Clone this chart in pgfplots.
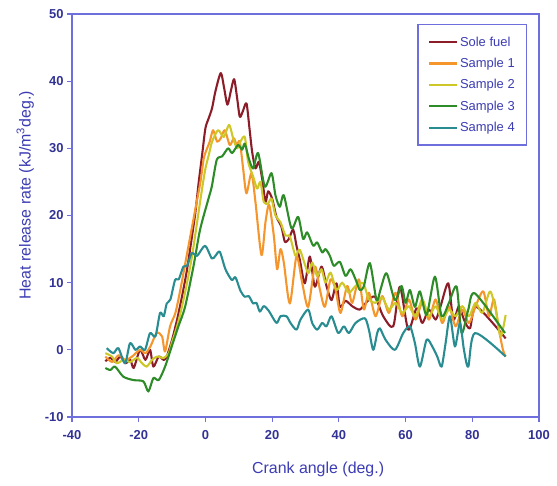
\documentclass[border=0pt]{standalone}
\usepackage{pgfplots}
\pgfplotsset{compat=1.18}
\usepackage{fontspec}
\setmainfont{Liberation Sans}
\definecolor{axblue}{RGB}{110,110,220}
\definecolor{tickblue}{RGB}{50,50,150}
\definecolor{labblue}{RGB}{60,60,180}
\definecolor{solec}{RGB}{140,28,40}
\definecolor{s1c}{RGB}{245,150,45}
\definecolor{s2c}{RGB}{205,200,40}
\definecolor{s3c}{RGB}{45,140,40}
\definecolor{s4c}{RGB}{40,140,145}
\tikzset{curve/.style={line width=2.1pt, smooth, tension=0.45, line join=round}}
\begin{document}
\begin{tikzpicture}
\useasboundingbox (-72bp,-69bp) rectangle (485bp,417bp);
\begin{axis}[
  scale only axis,
  width=467bp, height=403bp,
  xmin=-40, xmax=100, ymin=-10, ymax=50,
  xtick={-40,-20,...,100}, ytick={-10,0,...,50},
  axis line style={axblue, line width=1.4pt},
  tick style={axblue, line width=1.2pt},
  tick align=outside, major tick length=5bp,
  xtick pos=bottom, ytick pos=left,
  /pgf/number format/assume math mode=true,
  ticklabel style={font=\fontsize{13}{15}\selectfont\bfseries, text=tickblue},
  xticklabel style={yshift=-5bp},
  xlabel={Crank angle (deg.)},
  ylabel={Heat release rate (kJ/m\textsuperscript{3}deg.)},
  label style={font=\fontsize{16}{18}\selectfont, text=labblue},
  xlabel style={at={(axis description cs:0.527,-0.13)}, anchor=center},
  ylabel style={at={(axis description cs:-0.1,0.55)}, anchor=center},
  legend style={at={(0.975,0.975)}, anchor=north east, draw=axblue, line width=1.2pt,
    font=\fontsize{13}{15}\selectfont, text=labblue, inner xsep=10bp, inner ysep=10bp,
    row sep=6.5bp, cells={anchor=west}},
  legend image code/.code={\draw[#1, line width=2.1pt] (0bp,0bp) -- (28bp,0bp);},
]
\addplot[solec, curve] coordinates {
(-30,-1.7)(-28.5,-1.2)(-27,-1.8)(-25.5,-1.0)(-24,-2.0)(-22.5,-1.5)(-21.5,-2.7)(-19.6,0)(-18,-1.5)
(-16.6,0)(-15.6,-2.5)(-14,-1)(-12.5,-1.5)(-11.6,-1)(-10,1.5)(-8.5,4.5)(-7,8)(-5.5,12)(-4,17)
(-3,20.5)(-2,25)(-1,29)(0,33)(1,34.5)(2,36)(3,38.5)(4.6,41.2)(5.6,39)(6.6,36.5)(7.6,38.5)(8.6,40.3)
(9.5,37.5)(10.3,34.7)(11.2,35.5)(12.3,36.7)(13.2,33)(14,29.5)(15,27)(16,28)(17,25.5)(18,22)
(18.8,23.6)(20,22.5)(21.3,19.8)(22.8,18.3)(23.8,16.1)(25,16.5)(26.3,17.9)(27.3,15.5)(28.3,13.4)
(29.8,9.9)(31.3,13.9)(32.8,9.4)(34.8,12.4)(36.3,9.5)(37.8,7.4)(39.3,9.9)(40.3,6.4)(42,7.3)(44,6.5)
(46.3,6.0)(48.5,7.2)(50.8,7.9)(53.3,5.0)(56.3,3.5)(58.3,9.4)(60.8,3)(63.3,6.2)(65,4)(67,6)(69,4.5)
(70.5,6.5)(72.8,9.9)(74.3,4.5)(76,6.5)(77.5,4.5)(79.3,3.2)(81.3,6.4)(90,1.7)
};
\addlegendentry{Sole fuel}
\addplot[s1c, curve] coordinates {
(-30,-1)(-28,-1.8)(-26,-0.8)(-24,-1.5)(-22,-1)(-19.6,0)(-18,-0.5)(-16.5,0.5)(-14.6,2.5)(-13,2)
(-12.1,-0.25)(-10.6,3.5)(-9,5.5)(-7.5,9)(-6,13)(-4.5,17)(-3,21)(-1.5,25)(-0.5,28.5)(0.5,30)(1.3,31)
(2.3,32.7)(3.5,31)(4.6,31.5)(5.8,32.7)(7.3,30.5)(8.5,31.5)(9.4,30.5)(10.3,31)(11.3,27)(12.3,23.3)
(13.8,26.3)(15,22)(16.8,14.1)(18,19)(19.1,21.6)(20.5,17)(21.5,12)(22.5,15)(23.5,13)(25.3,6.9)
(27.3,13.9)(29,10)(30.8,6.4)(32.8,12.4)(34.3,9)(35.8,6.4)(37.5,10.5)(39,9)(40.5,5.5)(42.5,9.5)
(44,7)(46,10.5)(47.5,6)(49,8.5)(51,5)(53,8)(55,5.5)(57,8.5)(59,5)(61,7.5)(63,4.5)(65,7)(67,4.5)
(69,7.5)(71,4)(73,6.5)(75,3.5)(77,6)(79,4)(81,6.5)(83.3,8.7)(85,5)(86.5,7.5)(88,3)(89.2,0)(90,-1)
};
\addlegendentry{Sample 1}
\addplot[s2c, curve] coordinates {
(-30,-0.5)(-28,-1)(-26.6,-2)(-24.5,-1.5)(-22.5,-1.8)(-20.5,-1.2)(-19,-2)(-17.6,-2.5)(-16,-1.5)
(-14.5,-1)(-12.5,-1.2)(-11,-0.5)(-10.1,1)(-8.5,3.5)(-7,6.5)(-5.5,10)(-4,14)(-2.5,19)(-1,24)(0,27)
(1,29)(2,31)(3.8,32.7)(5.5,31.7)(7.1,33.5)(8.3,31.5)(9.5,30)(10.5,31)(11.8,31.7)(12.8,28)(14.3,25.8)
(15.5,24)(16.5,25)(17.5,22)(18.8,21.8)(19.8,22.5)(21,20)(22.5,19)(24,17)(25.3,16.9)(27,14)(28.3,14.9)
(30.8,11.4)(32,13)(33.5,11)(34.8,12)(36,10)(37.5,11.5)(39.3,8.9)(41,10)(43,8.5)(45,9.5)(47.3,9.9)
(49,7.5)(51,7)(53,7.8)(55,6)(57,7)(59,5.5)(61,6.5)(63,5)(65,7.5)(67,5)(69,6.5)(71,4.5)(73,6)(75,5)
(77,6.5)(79,5)(81,7)(83,5.5)(85.3,8.7)(87,6)(88.5,2)(90,5.2)
};
\addlegendentry{Sample 2}
\addplot[s3c, curve] coordinates {
(-30,-2.7)(-28.5,-3)(-27.1,-2.5)(-24.6,-4)(-21.6,-4.5)(-18.6,-4.7)(-17.1,-6.2)(-15.6,-4.2)(-14,-4.5)
(-12.1,-2.5)(-10.1,0.5)(-8.1,3.5)(-6.1,6.4)(-3.6,12.4)(-1.6,17.9)(0.8,22.3)(1.9,24.3)(3.4,28.3)(5,28.8)
(6.8,30)(8,29.3)(9.8,30.5)(11,29.8)(11.8,30.7)(13,28.5)(14.3,27)(15.8,29.3)(17.8,24.3)(19.8,26.3)
(21,23)(22.3,21.3)(23.5,23)(25.8,18.1)(27.8,19.8)(29.3,16.5)(30.5,17.5)(32.3,15.5)(33.5,16)(35,14.5)
(36,15)(37.3,14)(38.5,12.5)(40.3,13.1)(42,11)(43.5,12)(45,10.5)(46.3,8.9)(47.5,9.5)(49.3,12.9)
(51.3,7.4)(52.5,9)(54.3,11.4)(56.8,7.4)(58.8,9.5)(60,7)(61.3,8.9)(62.8,6.4)(64.3,8.7)(66.3,5.2)
(68.8,10.9)(70.8,5)(73,7)(75.3,9.4)(76.8,2.5)(78.8,6)(80.8,8.4)(89.8,2.5)
};
\addlegendentry{Sample 3}
\addplot[s4c, curve] coordinates {
(-29.6,0.25)(-27.6,-0.5)(-26.1,0.25)(-24.1,-2)(-22.6,1)(-21,0)(-19.6,0.5)(-18.1,0)(-16.6,2.5)(-15,2)
(-13.6,5.5)(-12.5,5)(-11.6,6.9)(-10.5,7.5)(-9.1,10.4)(-8,10.5)(-6.6,12.4)(-5.5,12.5)(-4.1,14.4)
(-2.5,14)(-0.1,15.5)(1.9,13.6)(3,14)(4.3,14.6)(6,12)(7.9,10.4)(9,10.8)(10.5,8.8)(11.8,7.9)(13,8)
(14.3,6.9)(15.3,7)(16.3,5.7)(17.5,6.5)(19,5.8)(21.3,4)(22.5,5)(24.3,5)(25.5,4)(27.3,3)(28.5,4.5)
(30.8,6)(32,4)(33.5,3)(35,4)(36.3,3.5)(37.8,5)(39.8,2.5)(41.5,3.5)(43,2.5)(45,4)(47.8,4.7)(49,3)
(50.3,0)(51.5,2.5)(52.3,3.2)(54,1.5)(56.8,0)(59.3,2.5)(61.3,3.5)(62.8,1)(64.3,-2.5)(66.3,1.5)(68,0.5)
(69.5,-1)(70.8,-2.5)(72,1)(73.3,5)(74.8,0.5)(76.3,4)(77.5,0)(78.8,-2.5)(80.8,2.5)(90,-1)
};
\addlegendentry{Sample 4}
\end{axis}
\end{tikzpicture}
\end{document}
